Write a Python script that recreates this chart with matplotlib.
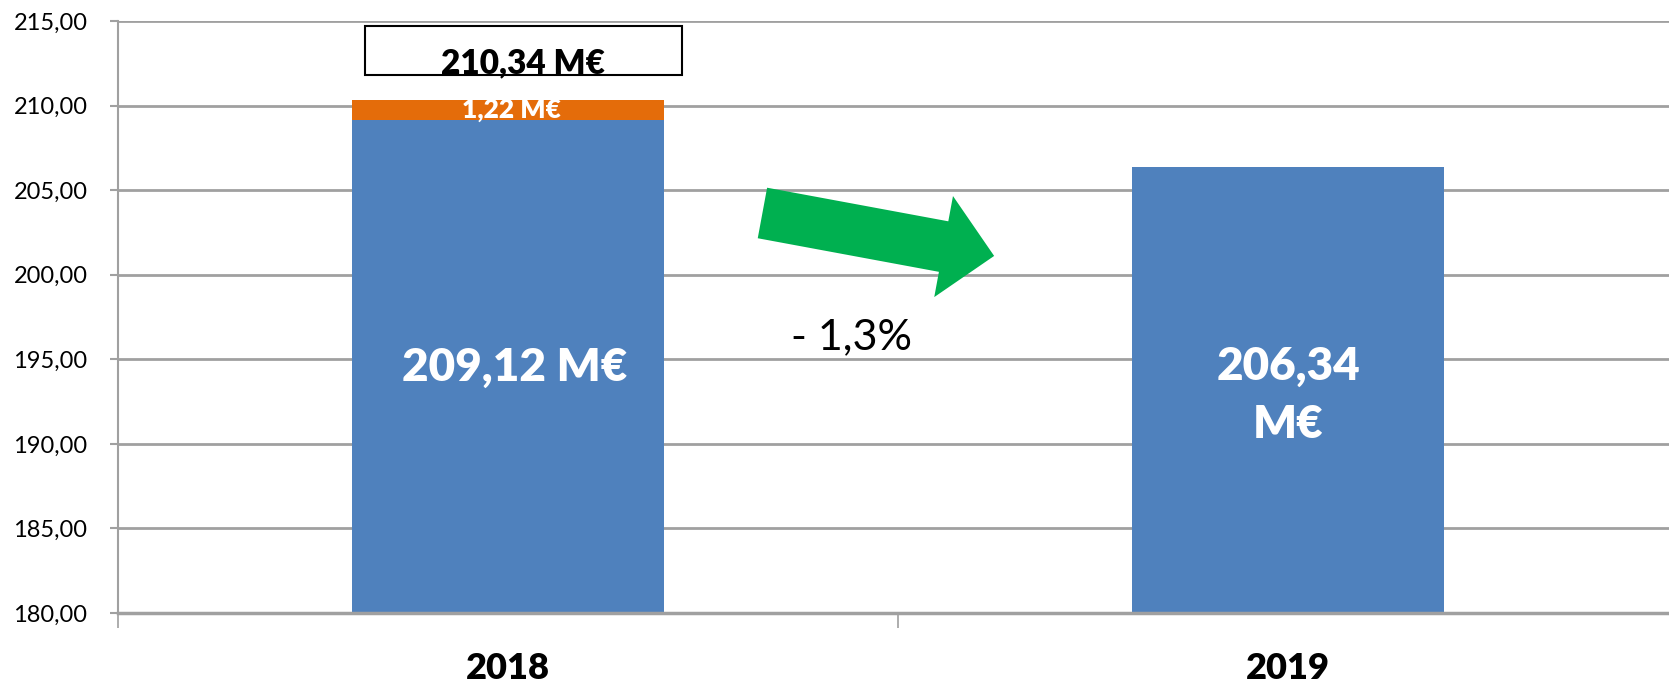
import numpy as np
import matplotlib.pyplot as plt
from matplotlib.ticker import FixedLocator, FuncFormatter

plt.rcParams['font.family'] = ['Lato', 'DejaVu Sans']

years = ['2018', '2019']
base = [209.12, 206.34]
extra = [1.22, 0.0]
base_labels = ['209,12 M€', '206,34\nM€']
extra_label = '1,22 M€'
total_label = '210,34 M€'
change_label = '- 1,3%'

blue = '#4F81BD'
orange = '#E46C0A'
green = '#00B050'
grid_col = '#A0A0A0'

fig = plt.figure(figsize=(16.69, 6.85), dpi=100)
ax = fig.add_axes([118/1669, 1 - 613/685, 1 - 118/1669, (613 - 21)/685])

x = np.arange(len(years))
ax.bar(x, base, width=0.4, color=blue, zorder=2)
ax.bar(x, extra, bottom=base, width=0.4, color=orange, zorder=2)

ax.set_ylim(180, 215)
ax.set_xlim(-0.5, 1.488)
ax.set_yticks(np.arange(180, 215.1, 5))
ax.yaxis.set_major_formatter(FuncFormatter(lambda v, p: f'{v:.2f}'.replace('.', ',')))
ax.grid(axis='y', color=grid_col, linewidth=2, zorder=0)

ax.set_xticks(x)
ax.set_xticklabels(years, fontsize=26, fontweight='heavy')
ax.tick_params(axis='x', which='major', length=0, pad=28)
ax.xaxis.set_minor_locator(FixedLocator([-0.5, 0.5, 1.5]))
ax.tick_params(axis='x', which='minor', length=11, color=grid_col, width=1.2)
ax.tick_params(axis='y', labelsize=17, length=6, color=grid_col, width=1.5, pad=16)

for s in ['top', 'right']:
    ax.spines[s].set_visible(False)
ax.spines['left'].set_color(grid_col)
ax.spines['left'].set_linewidth(1.5)
ax.spines['bottom'].set_color(grid_col)
ax.spines['bottom'].set_linewidth(2.5)
ax.spines['bottom'].set_zorder(3)

# value labels inside bars
ax.text(x[0] + 0.008, 194.5, base_labels[0], color='white', fontsize=33,
        fontweight='heavy', ha='center', va='center', zorder=4)
ax.text(x[1], 192.85, base_labels[1], color='white', fontsize=33,
        fontweight='heavy', ha='center', va='center', linespacing=1.5, zorder=4)
ax.text(x[0] + 0.004, base[0] + extra[0] / 2, extra_label, color='white', fontsize=19,
        fontweight='heavy', ha='center', va='center', zorder=4)

# total in a box
box_x0, box_x1 = x[0] - 0.183, x[0] + 0.223
box_y0, box_y1 = 211.81, 214.70
ax.add_patch(plt.Rectangle((box_x0, box_y0), box_x1 - box_x0, box_y1 - box_y0,
                           fill=False, edgecolor='black', linewidth=1.5, zorder=3))
ax.text(x[0] + 0.019, 212.5, total_label, color='black', fontsize=24,
        fontweight='heavy', ha='center', va='center', zorder=4)

# green arrow and change text
ax.annotate('', xy=(0.623, 201.11), xytext=(0.326, 203.65),
            arrowprops=dict(arrowstyle='simple,head_length=37,head_width=74,tail_width=37',
                            mutation_scale=1, fc=green, ec='none',
                            shrinkA=0, shrinkB=0), zorder=4)
ax.text(0.44, 196.3, change_label, fontsize=31, ha='center', va='center', zorder=4)

fig.savefig('out.png', dpi=100)
